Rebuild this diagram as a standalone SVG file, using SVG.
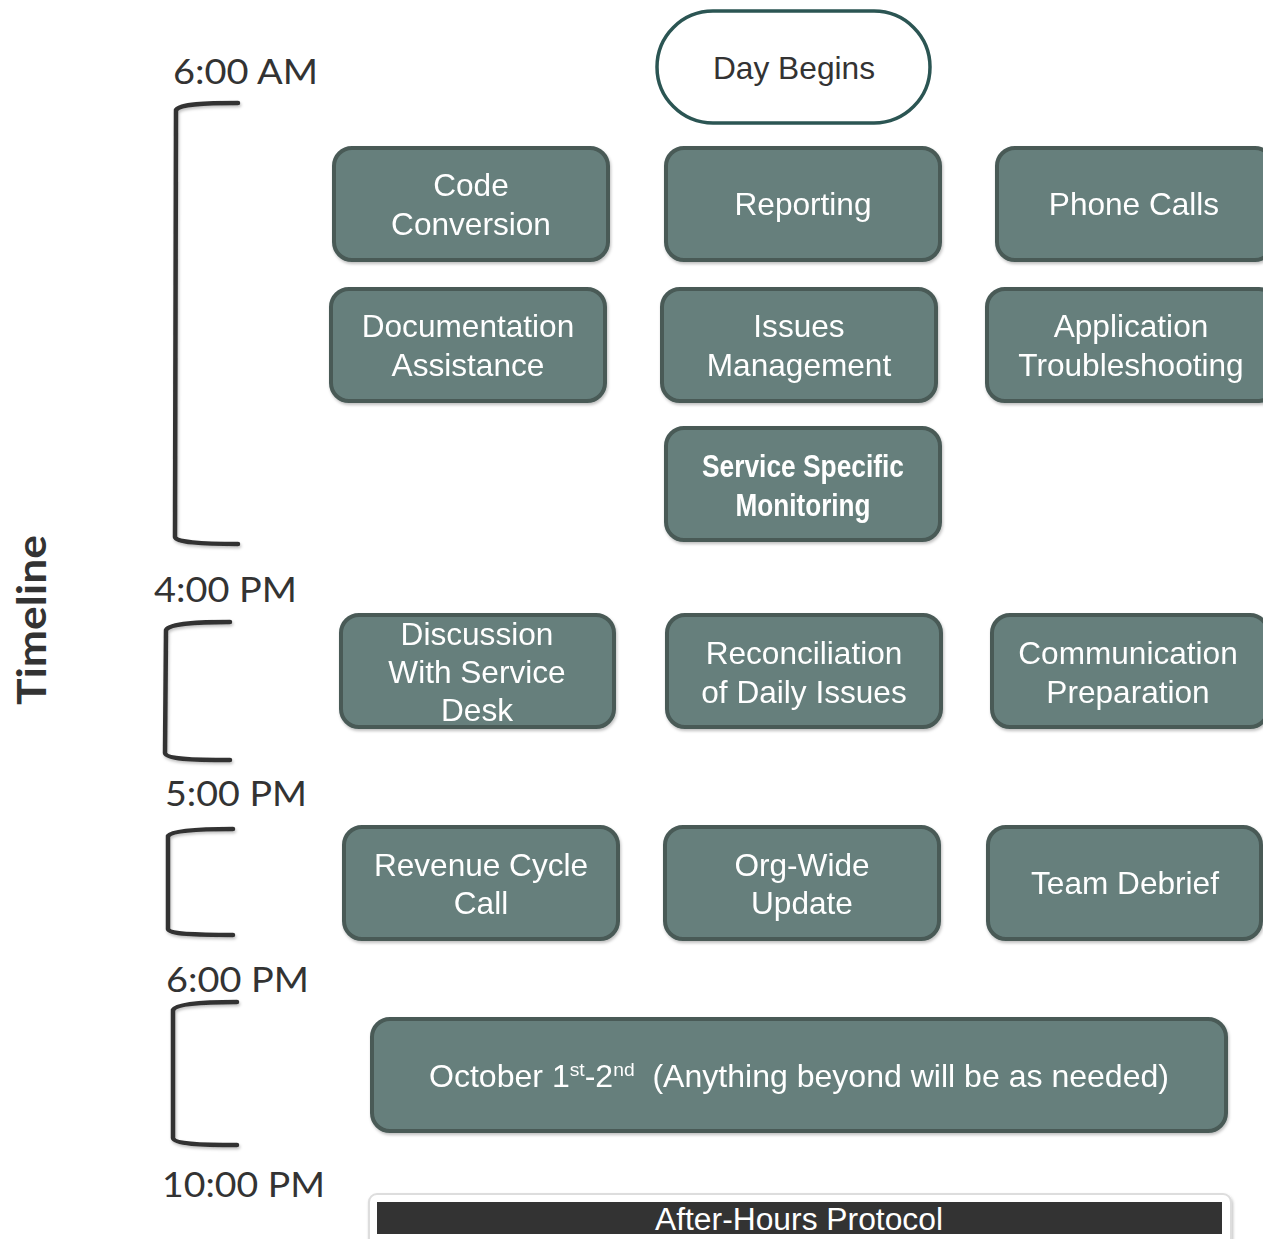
<svg xmlns="http://www.w3.org/2000/svg" width="1263" height="1239" viewBox="0 0 1263 1239">
<defs>
<style>
.box{fill:#667f7c;stroke:#485a57;stroke-width:4}
.bt{font-family:"Liberation Sans",Arial,sans-serif;font-size:31.6px;fill:#ffffff;text-anchor:middle}
.bb{font-family:"Liberation Sans Narrow","Liberation Sans",Arial,sans-serif;font-weight:bold;font-size:31px;fill:#ffffff;text-anchor:middle}
.tm{font-family:Lato,"Open Sans",sans-serif;font-size:34px;fill:#333333}
.br{fill:none;stroke:#333333;stroke-width:4.5;stroke-linecap:round;stroke-linejoin:round}
</style>
<filter id="sh" x="-20%" y="-20%" width="140%" height="140%">
<feDropShadow dx="1" dy="2" stdDeviation="1.5" flood-color="#000" flood-opacity="0.25"/>
</filter>
</defs>
<rect width="1263" height="1239" fill="#ffffff"/>

<g id="timeline-label">
<text transform="translate(46,620) rotate(-90)" text-anchor="middle" style="font-family:Lato,'Open Sans',sans-serif;font-weight:bold;font-size:40px;fill:#333" textLength="170" lengthAdjust="spacingAndGlyphs">Timeline</text>
</g>

<g id="time-labels">
<text class="tm" x="173" y="84" textLength="145" lengthAdjust="spacingAndGlyphs">6:00 AM</text>
<text class="tm" x="154" y="602" textLength="143" lengthAdjust="spacingAndGlyphs">4:00 PM</text>
<text class="tm" x="165" y="806" textLength="142" lengthAdjust="spacingAndGlyphs">5:00 PM</text>
<text class="tm" x="166" y="992" textLength="143" lengthAdjust="spacingAndGlyphs">6:00 PM</text>
<text class="tm" x="162" y="1197" textLength="163" lengthAdjust="spacingAndGlyphs">10:00 PM</text>
</g>

<g id="connectors" filter="url(#sh)">
<path class="br" d="M238,103 C205,103 180,104 176,110 L175,537 C176,542 200,544 238,544"/>
<path class="br" d="M230,622 C200,622 170,623 166,630 L165,753 C166,759 190,760 230,760"/>
<path class="br" d="M233,829 C205,829 172,830 168,836 L168,929 C169,934 195,935 233,935"/>
<path class="br" d="M237,1002 C210,1002 176,1003 173,1010 L173,1138 C174,1144 200,1145 237,1145"/>
</g>

<g id="day-begins">
<rect x="657" y="11" width="273" height="112" rx="56" fill="#ffffff" stroke="#2b5553" stroke-width="3.5"/>
<text x="794" y="79" text-anchor="middle" style="font-family:'Liberation Sans',Arial,sans-serif;font-size:31.7px;fill:#333">Day Begins</text>
</g>

<g id="code-conversion" filter="url(#sh)"><rect class="box" x="334" y="148" width="274" height="112" rx="18"/>
<text class="bt" x="471" y="196">Code</text><text class="bt" x="471" y="235">Conversion</text></g>

<g id="reporting" filter="url(#sh)"><rect class="box" x="666" y="148" width="274" height="112" rx="18"/>
<text class="bt" x="803" y="215">Reporting</text></g>

<g id="phone-calls" filter="url(#sh)"><rect class="box" x="997" y="148" width="276" height="112" rx="18"/>
<text class="bt" x="1134" y="215">Phone Calls</text></g>

<g id="documentation-assistance" filter="url(#sh)"><rect class="box" x="331" y="289" width="274" height="112" rx="18"/>
<text class="bt" x="468" y="337">Documentation</text><text class="bt" x="468" y="376">Assistance</text></g>

<g id="issues-management" filter="url(#sh)"><rect class="box" x="662" y="289" width="274" height="112" rx="18"/>
<text class="bt" x="799" y="337">Issues</text><text class="bt" x="799" y="376">Management</text></g>

<g id="application-troubleshooting" filter="url(#sh)"><rect class="box" x="987" y="289" width="290" height="112" rx="18"/>
<text class="bt" x="1131" y="337">Application</text><text class="bt" x="1131" y="376">Troubleshooting</text></g>

<g id="service-specific-monitoring" filter="url(#sh)"><rect class="box" x="666" y="428" width="274" height="112" rx="18"/>
<text class="bb" x="803" y="477" textLength="202" lengthAdjust="spacingAndGlyphs">Service Specific</text><text class="bb" x="803" y="516" textLength="135" lengthAdjust="spacingAndGlyphs">Monitoring</text></g>

<g id="discussion-service-desk" filter="url(#sh)"><rect class="box" x="341" y="615" width="273" height="112" rx="18"/>
<text class="bt" x="477" y="645">Discussion</text><text class="bt" x="477" y="683">With Service</text><text class="bt" x="477" y="721">Desk</text></g>

<g id="reconciliation" filter="url(#sh)"><rect class="box" x="667" y="615" width="274" height="112" rx="18"/>
<text class="bt" x="804" y="664">Reconciliation</text><text class="bt" x="804" y="703">of Daily Issues</text></g>

<g id="communication-preparation" filter="url(#sh)"><rect class="box" x="992" y="615" width="276" height="112" rx="18"/>
<text class="bt" x="1128" y="664">Communication</text><text class="bt" x="1128" y="703">Preparation</text></g>

<g id="revenue-cycle-call" filter="url(#sh)"><rect class="box" x="344" y="827" width="274" height="112" rx="18"/>
<text class="bt" x="481" y="876">Revenue Cycle</text><text class="bt" x="481" y="914">Call</text></g>

<g id="org-wide-update" filter="url(#sh)"><rect class="box" x="665" y="827" width="274" height="112" rx="18"/>
<text class="bt" x="802" y="876">Org-Wide</text><text class="bt" x="802" y="914">Update</text></g>

<g id="team-debrief" filter="url(#sh)"><rect class="box" x="988" y="827" width="273" height="112" rx="18"/>
<text class="bt" x="1125" y="894">Team Debrief</text></g>

<g id="october" filter="url(#sh)"><rect class="box" x="372" y="1019" width="854" height="112" rx="18"/>
<text class="bt" x="799" y="1087" textLength="740" lengthAdjust="spacingAndGlyphs">October 1<tspan font-size="19" dy="-11">st</tspan><tspan dy="11">-2</tspan><tspan font-size="19" dy="-11">nd</tspan><tspan dy="11" xml:space="preserve">  (Anything beyond will be as needed)</tspan></text></g>

<g id="after-hours-protocol">
<rect x="369" y="1194" width="862" height="60" rx="8" fill="#ffffff" stroke="#dddddd" stroke-width="2" filter="url(#sh)"/>
<rect x="377" y="1202" width="845" height="32" fill="#333333"/>
<text x="799" y="1230" text-anchor="middle" style="font-family:'Liberation Sans',Arial,sans-serif;font-size:31px;fill:#ffffff" textLength="288" lengthAdjust="spacingAndGlyphs">After-Hours Protocol</text>
</g>
</svg>
